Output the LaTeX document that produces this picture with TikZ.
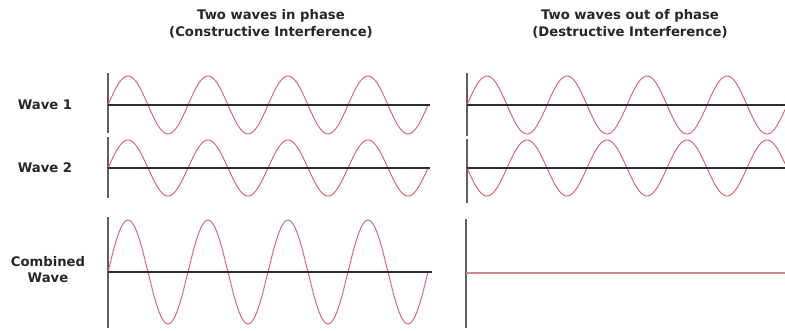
\documentclass[tikz,border=0pt]{standalone}
\usepackage{fontspec}
\setmainfont{DejaVu Sans}
\definecolor{wavered}{RGB}{214,92,104}
\definecolor{axisblack}{RGB}{45,45,45}
\definecolor{axisgray}{RGB}{95,95,95}
\definecolor{flatline}{RGB}{200,135,145}
\begin{document}
\begin{tikzpicture}[x=1pt,y=-1pt,
  wave/.style={draw=wavered,line width=0.9pt},
  haxis/.style={draw=axisblack,line width=1.6pt},
  vaxis/.style={draw=axisgray,line width=1.3pt},
  lbl/.style={font=\bfseries\fontsize{13.2}{16}\selectfont,text=black!85,align=center,inner sep=0pt},
  ttl/.style={font=\bfseries\fontsize{13.2}{17}\selectfont,text=black!85,align=center,inner sep=0pt}]
\useasboundingbox[fill=white] (0,0) rectangle (785,330);
% titles
\node[ttl] (t1) at (271,23.5) {Two waves in phase\\(Constructive Interference)};
\node[ttl] (t2) at (630,23.5) {Two waves out of phase\\(Destructive Interference)};
% row labels
\node[lbl] (l1) at (45,105) {Wave 1};
\node[lbl] (l2) at (45,168) {Wave 2};
\node[lbl] (l3) at (48,270) {Combined\\Wave};
% left panel
\draw[vaxis] (108,73) -- (108,133);
\draw[vaxis] (108,137) -- (108,198);
\draw[vaxis] (108,217) -- (108,328);
\draw[wave] plot[domain=108:428,samples=240] (\x,{105-29*sin(4.5*(\x-108))});
\draw[wave] plot[domain=108:428,samples=240] (\x,{168-28*sin(4.5*(\x-108))});
\draw[wave] plot[domain=108:428,samples=300] (\x,{272-52*sin(4.5*(\x-108))});
\draw[haxis] (108,105) -- (430,105);
\draw[haxis] (108,168) -- (430,168);
\draw[haxis] (108,272) -- (432,272);
% right panel
\draw[vaxis] (467,73) -- (467,136);
\draw[vaxis] (467,139) -- (467,203);
\draw[vaxis] (466,219) -- (466,328);
\draw[wave] plot[domain=467:785,samples=240] (\x,{105-29*sin(4.5*(\x-467))});
\draw[wave] plot[domain=467:785,samples=240] (\x,{168+28*sin(4.5*(\x-467))});
\draw[haxis] (467,105) -- (785,105);
\draw[haxis] (467,168) -- (785,168);
\draw[draw=flatline,line width=1.5pt] (466,273) -- (785,273);
\end{tikzpicture}
\end{document}
